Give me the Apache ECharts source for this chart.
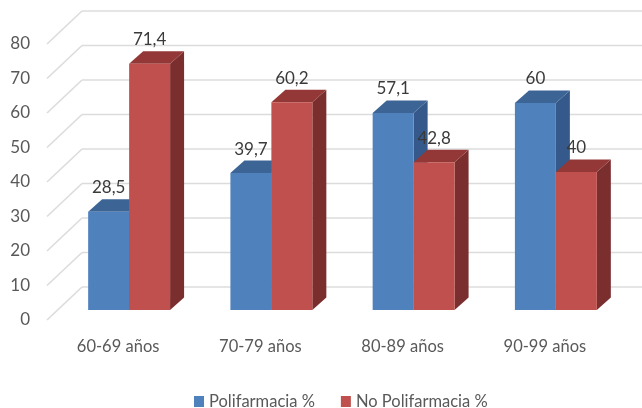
<!DOCTYPE html>
<html>
<head>
<meta charset="utf-8">
<title>Polifarmacia por edad</title>
<style>
  html, body { margin: 0; padding: 0; background: #fff; }
  #chart { width: 642px; height: 408px; filter: blur(0.4px); }
</style>
<script src="https://cdn.jsdelivr.net/npm/echarts@6/dist/echarts.min.js"></script>
</head>
<body>
<div id="chart"></div>
<script>
const categories = ["60-69 años", "70-79 años", "80-89 años", "90-99 años"];
const polifarmacia = [28.5, 39.7, 57.1, 60];
const noPolifarmacia = [71.4, 60.2, 42.8, 40];
const ticks = [0, 10, 20, 30, 40, 50, 60, 70, 80];

const font = 'Lato, "Liberation Sans", sans-serif';
const textColor = "#595959";
const wall = { dx: 35, dy: -33 }; // back wall relative to axis plane
const bar = { dx: 11, dy: -10, depthX: 14, depthY: -12.5, band: 0.288 };

function gridLine(params, api) {
  const p = api.coord([0, api.value(1)]);
  const x0 = params.coordSys.x;
  const style = { stroke: "#dcdcdc", lineWidth: 1.6, fill: "none" };
  return {
    type: "group",
    children: [
      {
        type: "line",
        shape: { x1: x0, y1: p[1], x2: x0 + wall.dx, y2: p[1] + wall.dy },
        style: style,
      },
      {
        type: "line",
        shape: { x1: x0 + wall.dx, y1: p[1] + wall.dy, x2: 660, y2: p[1] + wall.dy },
        style: style,
      },
    ],
  };
}

// side: 0 = left bar of the pair, 1 = right bar
function bar3d(side, front, top, right) {
  return function (params, api) {
    const base = api.coord([api.value(0), 0]);
    const head = api.coord([api.value(0), api.value(1)]);
    const w = api.size([1, 0])[0] * bar.band;
    const x = base[0] + bar.dx + (side - 1) * w;
    const y0 = base[1] + bar.dy;
    const y1 = head[1] + bar.dy;
    const dx = bar.depthX;
    const dy = bar.depthY;
    return {
      type: "group",
      children: [
        {
          type: "polygon",
          shape: { points: [[x + w, y1], [x + w + dx, y1 + dy], [x + w + dx, y0 + dy], [x + w, y0]] },
          style: { fill: right },
        },
        {
          type: "polygon",
          shape: { points: [[x, y1], [x + dx, y1 + dy], [x + w + dx, y1 + dy], [x + w, y1]] },
          style: { fill: top },
        },
        {
          type: "rect",
          shape: { x: x, y: y1, width: w, height: y0 - y1 },
          style: { fill: front },
        },
        {
          type: "text",
          z2: 50,
          style: {
            x: x + w / 2,
            y: y1 - 24,
            text: String(api.value(1)).replace(".", ","),
            font: "17px " + font,
            fill: "#3a3a3a",
            align: "center",
            verticalAlign: "middle",
          },
        },
      ],
    };
  };
}

const myChart = echarts.init(document.getElementById("chart"));
myChart.setOption({
  animation: false,
  backgroundColor: "#fff",
  grid: { left: 47, width: 569, top: 44, height: 276 },
  legend: {
    data: ["Polifarmacia %", "No Polifarmacia %"],
    left: 189,
    top: 388,
    itemWidth: 10,
    itemHeight: 11,
    itemGap: 26,
    icon: "rect",
    textStyle: { fontFamily: font, fontSize: 16.5, color: textColor },
  },
  xAxis: {
    type: "category",
    data: categories,
    axisLine: { show: false },
    axisTick: { show: false },
    axisLabel: { margin: 18, fontFamily: font, fontSize: 16.5, color: textColor },
  },
  yAxis: {
    type: "value",
    min: 0,
    max: 80,
    interval: 10,
    splitLine: { show: false },
    axisLine: { show: false },
    axisTick: { show: false },
    axisLabel: { margin: 17, fontFamily: font, fontSize: 17, color: textColor },
  },
  series: [
    {
      name: "walls",
      type: "custom",
      silent: true,
      data: ticks.map((t) => [0, t]),
      encode: { x: 0, y: 1 },
      renderItem: gridLine,
    },
    {
      name: "Polifarmacia %",
      type: "custom",
      itemStyle: { color: "#4f81bd" },
      data: polifarmacia.map((v, i) => [i, v]),
      encode: { x: 0, y: 1 },
      renderItem: bar3d(0, "#4f81bd", "#3c6595", "#35598a"),
    },
    {
      name: "No Polifarmacia %",
      type: "custom",
      itemStyle: { color: "#c0504d" },
      data: noPolifarmacia.map((v, i) => [i, v]),
      encode: { x: 0, y: 1 },
      renderItem: bar3d(1, "#c0504d", "#933836", "#7a2f2e"),
    },
  ],
});
</script>
</body>
</html>
